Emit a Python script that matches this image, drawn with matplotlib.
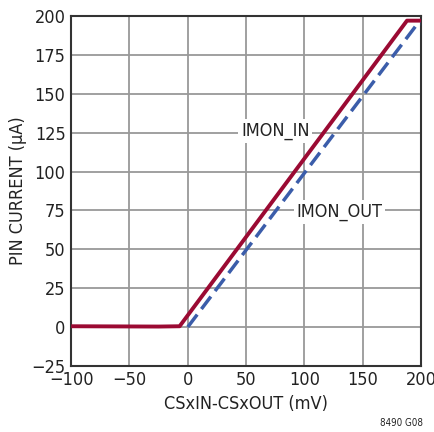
import matplotlib
matplotlib.use("Agg")
import matplotlib.pyplot as plt

# values
imon_in_x = [-100, -25, -7, 188, 200]
imon_in_y = [0.5, 0.3, 0.5, 197, 197]
imon_out_x = [0, 197, 200]
imon_out_y = [0, 195, 195]

x_ticks = [-100, -50, 0, 50, 100, 150, 200]
y_ticks = [-25, 0, 25, 50, 75, 100, 125, 150, 175, 200]
x_tick_labels = ['\u2212100', '\u221250', '0', '50', '100', '150', '200']
y_tick_labels = ['\u221225', '0', '25', '50', '75', '100', '125', '150', '175', '200']

plt.rcParams['font.family'] = ['DejaVu Sans']
plt.rcParams['font.stretch'] = 'condensed'

fig = plt.figure(figsize=(4.34, 4.32), dpi=100)
ax = fig.add_axes([0.164, 0.153, 0.806, 0.810])

ax.plot(imon_in_x, imon_in_y, color='#9b0a33', linewidth=2.8, solid_capstyle='butt', zorder=3)
ax.plot(imon_out_x, imon_out_y, color='#3b5daa', linewidth=2.5, dashes=(4.5, 2), zorder=3)

ax.set_xlim(-100, 200)
ax.set_ylim(-25, 200)
ax.set_xticks(x_ticks)
ax.set_xticklabels(x_tick_labels)
ax.set_yticks(y_ticks)
ax.set_yticklabels(y_tick_labels)
ax.tick_params(length=0, labelsize=13, colors='#222222', pad=4)
ax.grid(True, color='#999999', linewidth=1.3)
ax.set_axisbelow(True)
for s in ax.spines.values():
    s.set_color('#333333')
    s.set_linewidth(1.5)

ax.set_xlabel('CSxIN-CSxOUT (mV)', fontsize=13, color='#222222', labelpad=4)
ax.set_ylabel('PIN CURRENT (\u00b5A)', fontsize=13, color='#222222', labelpad=3)

box = dict(facecolor='white', edgecolor='none', pad=2)
ax.text(75, 126, 'IMON_IN', fontsize=13, color='#222222', ha='center', va='center', bbox=box, zorder=2)
ax.text(130, 74, 'IMON_OUT', fontsize=13, color='#222222', ha='center', va='center', bbox=box, zorder=2)

fig.text(0.975, 0.01, '8490 G08', fontsize=7, ha='right', va='bottom', color='#222222')

fig.savefig('out.png', dpi=100)
